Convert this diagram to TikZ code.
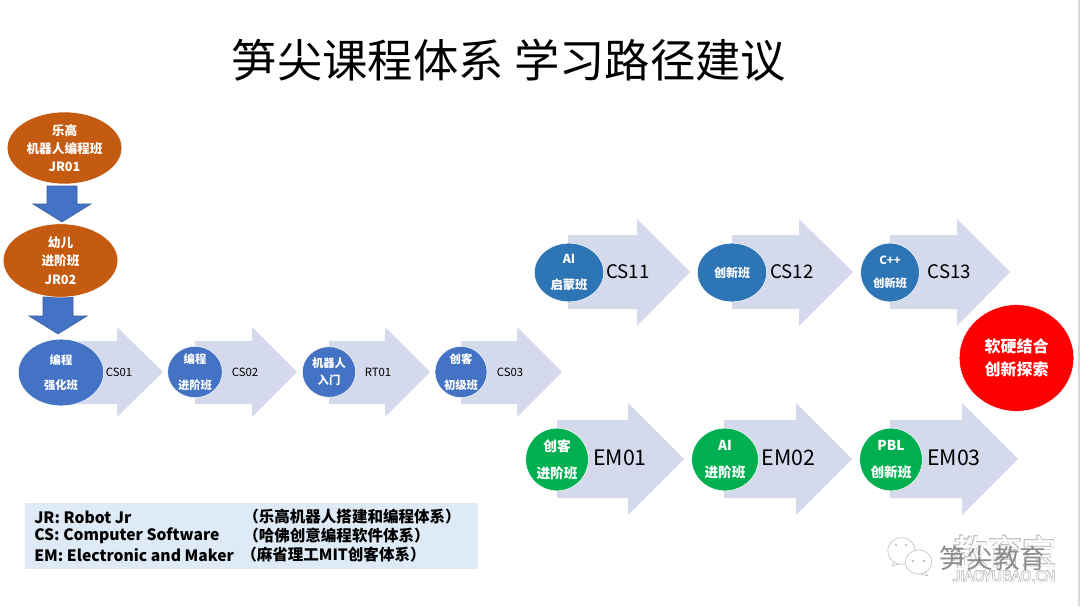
\documentclass[tikz,border=0pt]{standalone}
\usepackage{fontspec}
\usepackage{contour}
\setmainfont{Noto Sans CJK SC}
\usetikzlibrary{positioning, calc, shapes.geometric}
\definecolor{arrowGrey}{RGB}{212, 217, 235}
\definecolor{kidOrange}{RGB}{197, 90, 17}
\definecolor{csBlue}{RGB}{68, 114, 196}
\definecolor{topBlue}{RGB}{46, 117, 182}
\definecolor{emGreen}{RGB}{0, 176, 80}
\definecolor{keyBlue}{RGB}{222, 234, 246}
\definecolor{edgeGrey}{RGB}{215, 215, 215}
\definecolor{markGrey}{RGB}{195, 195, 195}
\contourlength{0.4pt}

\begin{document}
\begin{tikzpicture}[
    x=0.75pt, y=-0.75pt,
    course/.style={ellipse, inner sep=0pt, draw=white, line width=0.4pt, align=center,
                   text=white, font=\bfseries\fontsize{#1}{#1}\selectfont},
    tag/.style={font=\fontsize{#1}{#1}\selectfont, inner sep=0pt},
    keytext/.style={font=\bfseries\fontsize{#1}{#1}\selectfont, inner sep=0pt, anchor=west},
    bigarrow/.style={fill=arrowGrey, draw=none},
    downarrow/.style={fill=csBlue, draw=csBlue!80!black, line width=0.4pt},
    bubble/.style={ellipse, draw=markGrey, fill=white, line width=0.5pt, inner sep=0pt},
  ]
    \useasboundingbox (0,0) rectangle (1080,606);
    \fill[edgeGrey] (1078,0) rectangle (1080,606);

    % Title
    \node[tag=34] (TITLE) at (509,60) {笋尖课程体系 学习路径建议};

    % Row of the first stage
    \path[bigarrow] (61,341) -- (117,341) -- (117,327) -- (163,372) -- (117,417) -- (117,404) -- (61,404) -- cycle;
    \path[bigarrow] (195,341) -- (252,341) -- (252,327) -- (297,372) -- (252,417) -- (252,404) -- (195,404) -- cycle;
    \path[bigarrow] (329,341) -- (385,341) -- (385,327) -- (430,372) -- (385,417) -- (385,404) -- (329,404) -- cycle;
    \path[bigarrow] (461,341) -- (517,341) -- (517,327) -- (562,372) -- (517,417) -- (517,404) -- (461,404) -- cycle;
    % Row CS
    \path[bigarrow] (568,235) -- (637,235) -- (637,219) -- (690,272) -- (637,326) -- (637,309) -- (568,309) -- cycle;
    \path[bigarrow] (732,235) -- (799,235) -- (799,219) -- (853,272) -- (799,326) -- (799,309) -- (732,309) -- cycle;
    \path[bigarrow] (890,235) -- (957,235) -- (957,219) -- (1010,272) -- (957,326) -- (957,309) -- (890,309) -- cycle;
    % Row EM
    \path[bigarrow] (557,420) -- (628,420) -- (628,403) -- (684,459) -- (628,515) -- (628,498) -- (557,498) -- cycle;
    \path[bigarrow] (724,420) -- (796,420) -- (796,403) -- (852,459) -- (796,515) -- (796,498) -- (724,498) -- cycle;
    \path[bigarrow] (890,420) -- (962,420) -- (962,403) -- (1018,459) -- (962,515) -- (962,498) -- (890,498) -- cycle;

    % Down arrows
    \path[downarrow] (47,186) -- (77,186) -- (77,204) -- (91,204) -- (62,222) -- (33,204) -- (47,204) -- cycle;
    \path[downarrow] (43,297) -- (73,297) -- (73,316) -- (87,316) -- (58,334) -- (29,316) -- (43,316) -- cycle;

    % Junior courses
    \node[course=9.5, fill=kidOrange, minimum width=86pt, minimum height=54pt] (JR01) at (64.5,148)
      {乐高\\[4.2pt]机器人编程班\\[4.2pt]JR01};
    \node[course=9.5, fill=kidOrange, minimum width=86pt, minimum height=55pt] (JR02) at (60.5,260.5)
      {幼儿\\[4.2pt]进阶班\\[4.2pt]JR02};

    % First stage
    \node[course=8.5, fill=csBlue, minimum width=64pt, minimum height=50pt] (CS01) at (61,372.5) {编程\\[10pt]强化班};
    \node[course=8.5, fill=csBlue, minimum width=41pt, minimum height=38pt] (CS02) at (195,372) {编程\\[10.5pt]进阶班};
    \node[course=8.5, fill=csBlue, minimum width=40pt, minimum height=38pt] (RT01) at (329,372) {机器人\\[4.5pt]入门};
    \node[course=8.5, fill=csBlue, minimum width=39pt, minimum height=38pt] (CS03) at (461,372) {创客\\[10.5pt]初级班};
    \node[tag=8.5] (LCS01) at (119,372) {CS01};
    \node[tag=8.5] (LCS02) at (245,372) {CS02};
    \node[tag=8.5] (LRT01) at (378,372) {RT01};
    \node[tag=8.5] (LCS03) at (510,372) {CS03};

    % Software row
    \node[course=9.25, fill=topBlue, minimum width=52pt, minimum height=44pt] (CS11) at (569,272.5) {AI\\[10pt]启蒙班};
    \node[course=9, fill=topBlue, minimum width=52pt, minimum height=44pt] (CS12) at (732,272.5) {创新班};
    \node[course=8.5, fill=topBlue, minimum width=44pt, minimum height=44pt] (CS13) at (890,272.5) {C++\\[9pt]创新班};
    \node[tag=14] (LCS11) at (628,272) {CS11};
    \node[tag=14] (LCS12) at (792,272) {CS12};
    \node[tag=14] (LCS13) at (949.5,272) {CS13};

    % Maker row
    \node[course=10.25, fill=emGreen, minimum width=47pt, minimum height=47pt] (EM01) at (557,459.5) {创客\\[10pt]进阶班};
    \node[course=10.25, fill=emGreen, minimum width=50pt, minimum height=47pt] (EM02) at (725,459.5) {AI\\[10pt]进阶班};
    \node[course=10.25, fill=emGreen, minimum width=47pt, minimum height=47pt] (EM03) at (891,459.5) {PBL\\[10pt]创新班};
    \node[tag=16] (LEM01) at (620,458) {EM01};
    \node[tag=16] (LEM02) at (788.5,458) {EM02};
    \node[tag=16] (LEM03) at (954,458) {EM03};

    % Goal
    \node[course=12, fill=red, minimum width=86pt, minimum height=80pt] (GOAL) at (1016.5,358) {软硬结合\\[5pt]创新探索};

    % Key
    \fill[keyBlue] (25,503) rectangle (478,569);
    \node[keytext=11.75] (KEY1) at (34,517) {JR: Robot Jr};
    \node[keytext=11.75] (KEY2) at (34,536) {CS: Computer Software};
    \node[keytext=11.75] (KEY3) at (34,555) {EM: Electronic and Maker};
    \node[keytext=11.65] (KEYA) at (243,517) {（乐高机器人搭建和编程体系）};
    \node[keytext=11.65] (KEYB) at (243,536) {（哈佛创意编程软件体系）};
    \node[keytext=11.65] (KEYC) at (241,555) {（麻省理工MIT创客体系）};

    % Watermark
    \draw[markGrey, fill=white, line width=0.5pt] (895,560) -- (892,566) -- (901,563);
    \node[bubble, minimum width=20.5pt, minimum height=20pt] (BUB1) at (901.5,551) {};
    \draw[markGrey, fill=white, line width=0.5pt] (924,570) -- (928,576) -- (917,573);
    \node[bubble, minimum width=20pt, minimum height=18pt] (BUB2) at (918.5,562) {};
    \foreach \dx/\dy in {896/545, 906/545, 913/561, 924/561}
      \fill[markGrey] (\dx,\dy) circle (1.3);
    \node[tag=26] (MARK) at (1005,552) {\contour{markGrey}{\textcolor{white}{教育宝}}};
    \node[tag=20, text=black!45] (MARKB) at (993,558) {笋尖教育};
    \node[tag=11] (MARKC) at (1004,577) {\contour{markGrey}{\textcolor{white}{JIAOYUBAO.CN}}};
\end{tikzpicture}
\end{document}
